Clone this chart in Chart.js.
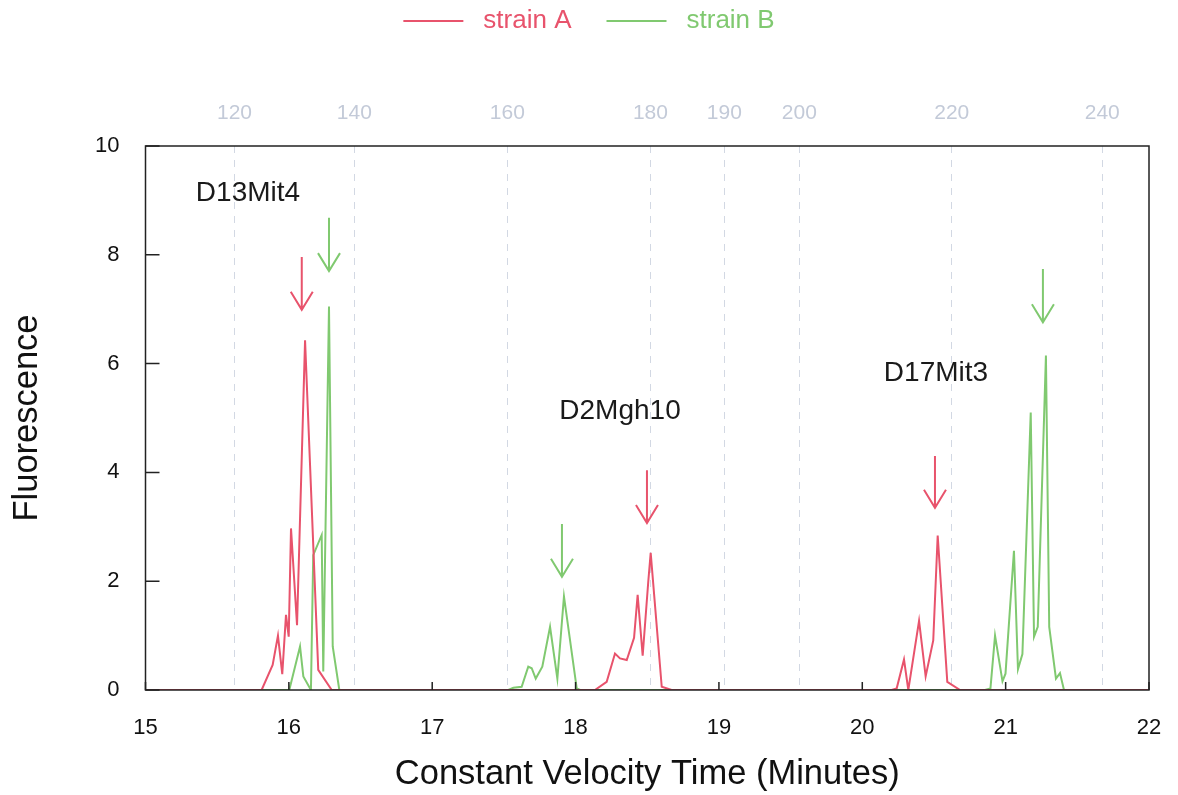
<!DOCTYPE html>
<html>
<head>
<meta charset="utf-8">
<script src="https://cdn.jsdelivr.net/npm/chart.js@4.4.1/dist/chart.umd.min.js"></script>
<style>
  html, body { margin: 0; padding: 0; background: #fff; }
  #wrap { width: 1178px; height: 795px; }
</style>
</head>
<body>
<div id="wrap"><canvas id="chart" width="1178" height="795"></canvas></div>
<script>
// strain A trace (time in minutes, fluorescence)
const aTime = [15, 15.810, 15.887, 15.924, 15.954, 15.980, 15.999, 16.015, 16.057, 16.113, 16.205, 16.299,
  18.135, 18.217, 18.275, 18.310, 18.357, 18.408, 18.433, 18.468, 18.507, 18.524, 18.601, 18.670,
  20.205, 20.240, 20.291, 20.321, 20.396, 20.442, 20.495, 20.526, 20.593, 20.682, 22];
const aValue = [0, 0, 0.46, 1.00, 0.29, 1.38, 0.98, 2.97, 1.19, 6.43, 0.37, 0,
  0, 0.15, 0.67, 0.58, 0.55, 0.96, 1.75, 0.63, 1.99, 2.52, 0.06, 0,
  0, 0.03, 0.56, 0, 1.27, 0.25, 0.91, 2.84, 0.15, 0, 0];

// strain B trace
const bTime = [15, 16.003, 16.078, 16.101, 16.154, 16.170, 16.229, 16.240, 16.280, 16.306, 16.352,
  17.531, 17.566, 17.624, 17.670, 17.694, 17.722, 17.768, 17.822, 17.873, 17.919, 18.008, 18.031,
  20.856, 20.894, 20.926, 20.978, 20.999, 21.058, 21.086, 21.117, 21.175, 21.198, 21.224, 21.281, 21.304, 21.351, 21.379, 21.407, 22];
const bValue = [0, 0, 0.80, 0.25, 0, 2.48, 2.85, 0.34, 7.05, 0.80, 0,
  0, 0.04, 0.06, 0.43, 0.40, 0.21, 0.43, 1.16, 0.21, 1.72, 0.03, 0,
  0, 0.03, 1.00, 0.16, 0.30, 2.56, 0.38, 0.66, 5.10, 0.98, 1.16, 6.15, 1.16, 0.21, 0.31, 0, 0];

// size standard (bp) positions along the time axis
const sizeTimes = [15.621, 16.457, 17.524, 18.522, 19.038, 19.561, 20.624, 21.674];
const sizeLabels = ['120', '140', '160', '180', '190', '200', '220', '240'];

// marker names
const markerNames = ['D13Mit4', 'D2Mgh10', 'D17Mit3'];
const markerX = [15.715, 18.310, 20.514];
const markerY = [9.14, 5.13, 5.83];

// peak arrows
const arrowStrain = [0, 1, 1, 0, 0, 1];
const arrowX = [16.090, 16.280, 17.905, 18.498, 20.507, 21.260];
const arrowTop = [7.96, 8.68, 3.05, 4.04, 4.30, 7.74];
const arrowTip = [6.99, 7.70, 2.08, 3.07, 3.35, 6.76];

const RED = '#e8536c';
const GREEN = '#80c970';
const FONT = "'Liberation Sans', Arial, sans-serif";

const toPoints = (xs, ys) => xs.map((x, i) => ({ x: x, y: ys[i] }));

// frame and inward tick marks
const framePlugin = {
  id: 'frame',
  afterDatasetsDraw(chart) {
    const { ctx, chartArea: a, scales } = chart;
    ctx.save();
    ctx.strokeStyle = '#222';
    ctx.lineWidth = 1.5;
    ctx.strokeRect(a.left, a.top, a.right - a.left, a.bottom - a.top);
    ctx.beginPath();
    scales.y.ticks.forEach(t => {
      const py = scales.y.getPixelForValue(t.value);
      ctx.moveTo(a.left, py);
      ctx.lineTo(a.left + 14, py);
    });
    scales.x.ticks.forEach(t => {
      const px = scales.x.getPixelForValue(t.value);
      ctx.moveTo(px, a.bottom);
      ctx.lineTo(px, a.bottom - 8);
    });
    ctx.stroke();
    ctx.restore();
  }
};

// marker labels, arrows and legend
const notesPlugin = {
  id: 'notes',
  afterDraw(chart) {
    const { ctx, scales } = chart;
    const colors = [RED, GREEN];
    ctx.save();
    ctx.font = '28px ' + FONT;
    ctx.fillStyle = '#1a1a1a';
    ctx.textAlign = 'center';
    ctx.textBaseline = 'middle';
    markerNames.forEach((name, i) => {
      ctx.fillText(name, scales.x.getPixelForValue(markerX[i]), scales.y.getPixelForValue(markerY[i]));
    });

    ctx.lineWidth = 2;
    arrowX.forEach((v, i) => {
      const px = scales.x.getPixelForValue(v);
      const top = scales.y.getPixelForValue(arrowTop[i]);
      const tip = scales.y.getPixelForValue(arrowTip[i]);
      ctx.strokeStyle = colors[arrowStrain[i]];
      ctx.beginPath();
      ctx.moveTo(px, top);
      ctx.lineTo(px, tip);
      ctx.moveTo(px - 11, tip - 18);
      ctx.lineTo(px, tip);
      ctx.lineTo(px + 11, tip - 18);
      ctx.stroke();
    });

    // legend
    ctx.font = '26px ' + FONT;
    ctx.textAlign = 'left';
    const items = chart.data.datasets.map(d => ({ label: d.label, color: d.borderColor, w: ctx.measureText(d.label).width }));
    const lineW = 60, gap = 20, itemGap = 35;
    let total = items.reduce((s, it) => s + lineW + gap + it.w, 0) + itemGap * (items.length - 1);
    let x = chart.width / 2 - total / 2;
    const ly = 21;
    items.forEach(it => {
      ctx.strokeStyle = it.color;
      ctx.beginPath();
      ctx.moveTo(x, ly);
      ctx.lineTo(x + lineW, ly);
      ctx.stroke();
      ctx.fillStyle = it.color;
      ctx.fillText(it.label, x + lineW + gap, ly);
      x += lineW + gap + it.w + itemGap;
    });
    ctx.restore();
  }
};

new Chart(document.getElementById('chart'), {
  type: 'line',
  data: {
    datasets: [
      {
        label: 'strain A',
        data: toPoints(aTime, aValue),
        borderColor: RED,
        borderWidth: 2,
        pointRadius: 0,
        tension: 0,
        xAxisID: 'x',
        yAxisID: 'y'
      },
      {
        label: 'strain B',
        data: toPoints(bTime, bValue),
        borderColor: GREEN,
        borderWidth: 2,
        pointRadius: 0,
        tension: 0,
        xAxisID: 'x',
        yAxisID: 'y'
      }
    ]
  },
  options: {
    responsive: false,
    animation: false,
    layout: { padding: { top: 0, right: 29, bottom: 0, left: 0 } },
    plugins: {
      legend: { display: false },
      tooltip: { enabled: false }
    },
    scales: {
      x: {
        type: 'linear',
        position: 'bottom',
        min: 15,
        max: 22,
        afterBuildTicks: scale => { scale.ticks = [15, 16, 17, 18, 19, 20, 21, 22].map(v => ({ value: v })); },
        afterFit: scale => { scale.height = 105; scale.paddingLeft = 0; scale.paddingRight = 0; },
        grid: { display: false, drawTicks: false },
        border: { display: false },
        ticks: {
          padding: 25,
          color: '#111',
          font: { family: FONT, size: 22 },
          maxRotation: 0
        },
        title: {
          display: true,
          text: 'Constant Velocity Time (Minutes)',
          color: '#111',
          font: { family: FONT, size: 34.5 },
          padding: { top: 0, bottom: 0 }
        }
      },
      x2: {
        type: 'linear',
        position: 'top',
        min: 15,
        max: 22,
        afterBuildTicks: scale => { scale.ticks = sizeTimes.map(v => ({ value: v })); },
        afterFit: scale => { scale.height = 146; scale.paddingLeft = 0; scale.paddingRight = 0; },
        grid: { display: true, drawOnChartArea: true, drawTicks: false, color: '#d2d8e3', lineWidth: 1 },
        border: { display: false, dash: [7, 7] },
        ticks: {
          padding: 20,
          color: '#c3cad8',
          font: { family: FONT, size: 21 },
          maxRotation: 0,
          callback: (value, i) => sizeLabels[i]
        }
      },
      y: {
        type: 'linear',
        position: 'left',
        min: 0,
        max: 10,
        afterBuildTicks: scale => { scale.ticks = [0, 2, 4, 6, 8, 10].map(v => ({ value: v })); },
        afterFit: scale => { scale.width = 145.5; },
        grid: { display: false, drawTicks: false },
        border: { display: false },
        ticks: {
          padding: 26,
          color: '#111',
          font: { family: FONT, size: 22 }
        },
        title: {
          display: true,
          text: 'Fluorescence',
          color: '#111',
          font: { family: FONT, size: 34.5 },
          padding: { top: 7, bottom: 0 }
        }
      }
    }
  },
  plugins: [framePlugin, notesPlugin]
});
</script>
</body>
</html>
